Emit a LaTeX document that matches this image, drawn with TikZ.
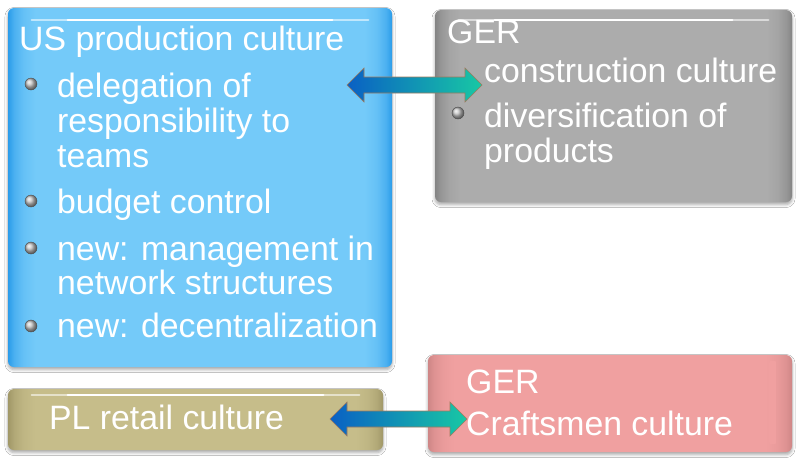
\documentclass[tikz,border=0pt]{standalone}
\usepackage{fontspec}
\setmainfont{Liberation Sans}
\usetikzlibrary{calc,shadows.blur}
\definecolor{blueC}{HTML}{74CAF9}
\definecolor{blueE}{HTML}{2A9CEA}
\definecolor{grayC}{HTML}{ACACAC}
\definecolor{grayE}{HTML}{848484}
\definecolor{oliveC}{HTML}{C6BD8A}
\definecolor{oliveE}{HTML}{A09767}
\definecolor{pinkC}{HTML}{F0A0A0}
\definecolor{pinkE}{HTML}{CE8686}
\definecolor{arrL}{HTML}{0A60C4}
\definecolor{arrM}{HTML}{1CC0E6}
\definecolor{arrR}{HTML}{18C8A4}
\definecolor{arrEdge}{HTML}{A07A5C}
\newcommand\mkboxshading[3]{%
  \pgfdeclarehorizontalshading{#1}{100bp}{color(0bp)=(#3); color(25bp)=(#3);
    color(25.8bp)=(#3!55!#2); color(27bp)=(#3!20!#2); color(28.6bp)=(#2);
    color(71.4bp)=(#2); color(73bp)=(#3!20!#2); color(74.2bp)=(#3!55!#2);
    color(75bp)=(#3); color(100bp)=(#3)}}
\mkboxshading{blueSh}{blueC}{blueE}
\mkboxshading{graySh}{grayC}{grayE}
\mkboxshading{oliveSh}{oliveC}{oliveE}
\mkboxshading{pinkSh}{pinkC}{pinkE}
\tikzset{
  gbox/.style={rectangle, rounded corners=6pt, inner sep=0pt, shade, shading=#1,
    blur shadow={shadow xshift=0pt, shadow yshift=-2.5pt, shadow blur radius=3pt, shadow opacity=35}},
  glossA/.style={draw=#1!45!white, line width=2.6pt, line cap=round},
  glossB/.style={draw=white, line width=2.6pt, line cap=round},
  txt/.style={font=\fontsize{33.8}{35}\selectfont, text=white, anchor=base west, inner sep=0pt},
  bul/.style={circle, minimum size=12pt, inner sep=0pt, ball color=gray!45!white, draw=gray!60!black, line width=0.4pt},
  dblarrow/.style={left color=arrL, middle color=arrM, right color=arrR, draw=arrEdge, line width=0.6pt, line join=miter}
}
\begin{document}
\begin{tikzpicture}[x=1pt,y=-1pt]
\useasboundingbox (0,0) rectangle (800,467);
\fill[white] (0,0) rectangle (800,467);
% boxes
\node[gbox=blueSh, minimum width=384pt, minimum height=359pt] (us) at (200,187.5) {};
\node[gbox=graySh, minimum width=357pt, minimum height=192pt] (gerA) at (613.5,106) {};
\node[gbox=oliveSh, minimum width=375pt, minimum height=61pt] (pl) at (195.5,419.5) {};
\node[gbox=pinkSh, minimum width=364pt, minimum height=97pt] (gerB) at (610,403.5) {};
% glossy highlights
\draw[glossA=blueC] ($(us.north west)+(24,12)$) -- ($(us.north east)+(-24,12)$);
\draw[glossB] ($(us.north west)+(60,12)$) -- ($(us.north east)+(-60,12)$);
\draw[glossA=grayC] ($(gerA.north west)+(24,10)$) -- ($(gerA.north east)+(-24,10)$);
\draw[glossB] ($(gerA.north west)+(60,10)$) -- ($(gerA.north east)+(-60,10)$);
\draw[glossA=oliveC] ($(pl.north west)+(24,6)$) -- ($(pl.north east)+(-24,6)$);
\draw[glossB] ($(pl.north west)+(60,6)$) -- ($(pl.north east)+(-60,6)$);
\shade[top color=pinkC, middle color=white, bottom color=pinkC, rounded corners=2pt] ($(gerB.north east)+(-23,6)$) rectangle ($(gerB.south east)+(-16,-8)$);
% blue box text
\node[txt] (usT) at (19,50) {US production culture};
\node[bul] (b1) at (31,84) {};
\node[txt] (d1) at (57,97) {delegation of};
\node[txt] (d2) at (57,132) {responsibility to};
\node[txt] (d3) at (57,167) {teams};
\node[bul] (b2) at (31,201) {};
\node[txt] (bc) at (57,213) {budget control};
\node[bul] (b3) at (31,248) {};
\node[txt] (n1) at (57,260) {new: management in};
\node[txt] (n2) at (57,294) {network structures};
\node[bul] (b4) at (31,326) {};
\node[txt] (dc) at (57,337) {new: decentralization};
% gray box text
\node[txt] (gA) at (447,43) {GER};
\node[txt] (cc) at (484,82) {construction culture};
\node[bul] (b5) at (458,113) {};
\node[txt] (dv1) at (484,127) {diversification of};
\node[txt] (dv2) at (484,162) {products};
% bottom boxes text
\node[txt] (plT) at (49,429) {PL retail culture};
\node[txt] (gB) at (466,393) {GER};
\node[txt] (cr) at (466,435) {Craftsmen culture};
% arrows
\coordinate (t1) at (347,85);
\coordinate (t2) at (482,85);
\shade[dblarrow] (t1) -- ++(17,-17) -- ++(0,9) -- ($(t2)+(-17,-8)$) -- ++(0,-9) -- (t2) -- ++(-17,17) -- ++(0,-9) -- ($(t1)+(17,8)$) -- ++(0,9) -- cycle;
\coordinate (u1) at (330,419);
\coordinate (u2) at (467,419);
\shade[dblarrow] (u1) -- ++(17,-17) -- ++(0,9) -- ($(u2)+(-17,-8)$) -- ++(0,-9) -- (u2) -- ++(-17,17) -- ++(0,-9) -- ($(u1)+(17,8)$) -- ++(0,9) -- cycle;
\end{tikzpicture}
\end{document}
